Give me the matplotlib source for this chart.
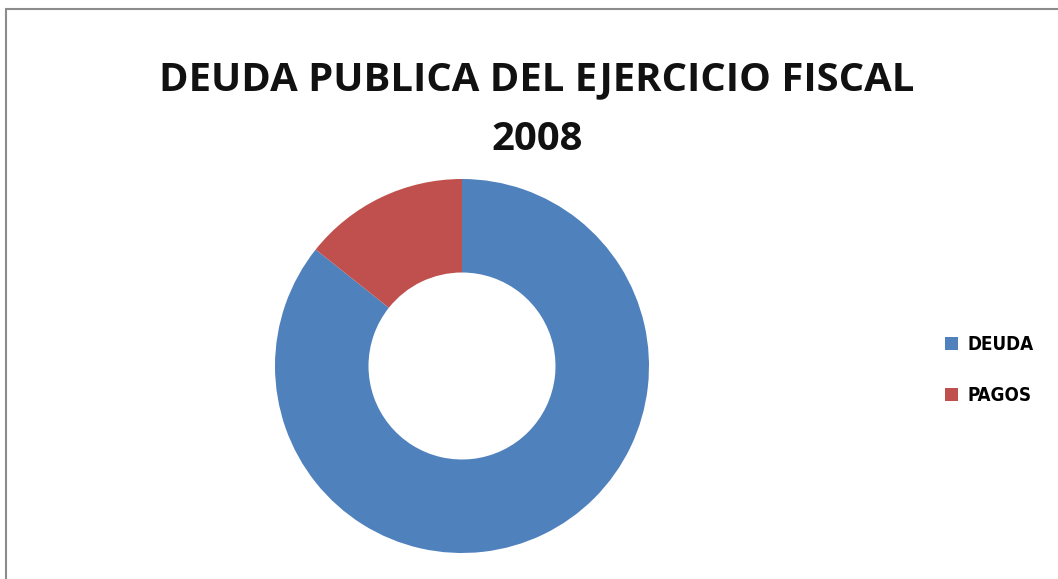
import matplotlib.pyplot as plt
from matplotlib.patches import Rectangle

labels = ["DEUDA", "PAGOS"]
values = [85.7, 14.3]
colors = ["#4F81BD", "#C0504D"]

W, H = 1058, 579
fig = plt.figure(figsize=(W / 100, H / 100), dpi=100)

# chart frame (runs off the right and bottom edge)
fig.patches.append(Rectangle((6 / W, -0.1), 1.2, (H - 9.5) / H + 0.1,
                             transform=fig.transFigure, fill=False,
                             edgecolor="#8c8c8c", linewidth=1.5))

cx, cy, r = 462, H - 366, 187
ax = fig.add_axes([(cx - r) / W, (cy - r) / H, 2 * r / W, 2 * r / H])
wedges, _ = ax.pie(values, colors=colors, startangle=90, counterclock=False,
                   radius=1.0, wedgeprops=dict(width=0.5, edgecolor="none"))
ax.set_xlim(-1, 1)
ax.set_ylim(-1, 1)
ax.set_aspect("equal")
ax.axis("off")

fig.text(537 / W, 1 - 80 / H, "DEUDA PUBLICA DEL EJERCICIO FISCAL",
         ha="center", va="center", fontsize=28.8, fontweight="bold",
         family="Open Sans", color="#111111")
fig.text(537 / W, 1 - 140 / H, "2008",
         ha="center", va="center", fontsize=28.8, fontweight="bold",
         family="Open Sans", color="#111111")

leg = fig.legend(wedges, labels, loc="center left",
                 bbox_to_anchor=(928 / W, 1 - 370 / H), frameon=False,
                 handlelength=0.7, handleheight=0.7, handletextpad=0.5,
                 labelspacing=1.7,
                 prop=dict(family="DejaVu Sans", weight="bold", size=13.5,
                           stretch="condensed"))

fig.savefig("out.png", dpi=100)
